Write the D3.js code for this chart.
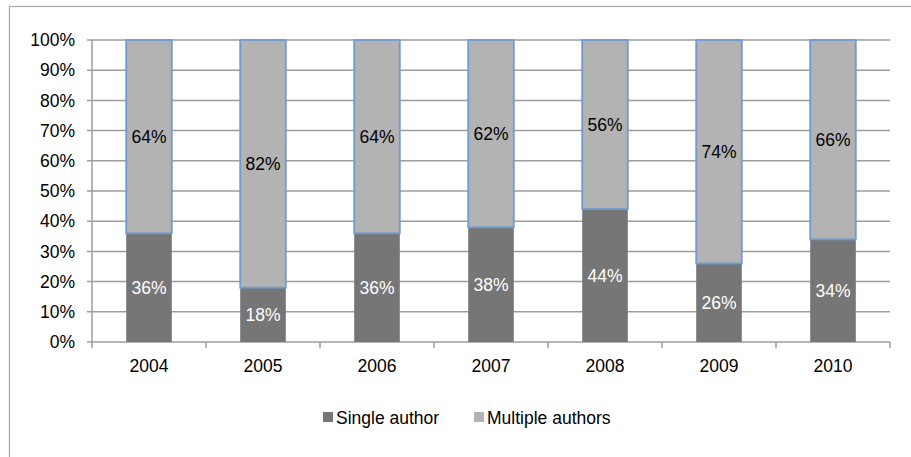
<!DOCTYPE html>
<html>
<head>
<meta charset="utf-8">
<script src="https://cdn.jsdelivr.net/npm/d3@7"></script>
<style>
  body { margin: 0; background: #fff; }
  text { font-family: "Liberation Sans", Arial, sans-serif; }
</style>
</head>
<body>
<div id="chart"></div>
<script>
// Data
var years = ["2004", "2005", "2006", "2007", "2008", "2009", "2010"];
var single = [36, 18, 36, 38, 44, 26, 34];
var multiple = [64, 82, 64, 62, 56, 74, 66];
var yTicks = [0, 10, 20, 30, 40, 50, 60, 70, 80, 90, 100];
var seriesNames = ["Single author", "Multiple authors"];

var svgWidth = 911;
var svgHeight = 457;
var margin = { top: 40, right: 21, bottom: 115, left: 92 };
var plotWidth = svgWidth - margin.left - margin.right;
var plotHeight = svgHeight - margin.top - margin.bottom;
var fontSize = 17.5;

var svg = d3.select("#chart")
    .append("svg")
    .attr("width", svgWidth)
    .attr("height", svgHeight);

// outer frame (runs off the right and bottom edges)
svg.append("rect")
    .attr("x", 9.5).attr("y", 6.5)
    .attr("width", 1000).attr("height", 1000)
    .attr("fill", "none")
    .attr("stroke", "#a6a6a6")
    .attr("stroke-width", 1.2);

var chartGroup = svg.append("g")
    .attr("transform", `translate(${margin.left}, ${margin.top})`);

var xScale = d3.scaleBand()
    .domain(years)
    .range([0, plotWidth])
    .paddingInner(0.6)
    .paddingOuter(0.3);

var yScale = d3.scaleLinear()
    .domain([0, 100])
    .range([plotHeight, 0]);

// gridlines
chartGroup.selectAll(".grid")
    .data(yTicks)
    .enter()
    .append("line")
    .attr("x1", -5)
    .attr("x2", plotWidth)
    .attr("y1", d => yScale(d))
    .attr("y2", d => yScale(d))
    .attr("stroke", "#9d9d9d")
    .attr("stroke-width", 1.5);

// y labels
chartGroup.selectAll(".ylab")
    .data(yTicks)
    .enter()
    .append("text")
    .attr("x", -17)
    .attr("y", d => yScale(d))
    .attr("dy", "0.35em")
    .attr("text-anchor", "end")
    .attr("font-size", fontSize)
    .attr("fill", "#000")
    .text(d => d + "%");

// y axis line
chartGroup.append("line")
    .attr("x1", 0).attr("x2", 0)
    .attr("y1", 0).attr("y2", plotHeight)
    .attr("stroke", "#9d9d9d")
    .attr("stroke-width", 1.5);

// x tick marks at category boundaries
var bounds = d3.range(years.length + 1);
chartGroup.selectAll(".xtick")
    .data(bounds)
    .enter()
    .append("line")
    .attr("x1", d => d * plotWidth / years.length)
    .attr("x2", d => d * plotWidth / years.length)
    .attr("y1", plotHeight)
    .attr("y2", plotHeight + 6)
    .attr("stroke", "#9d9d9d")
    .attr("stroke-width", 1.5);

// single author bars
chartGroup.selectAll(".single")
    .data(years)
    .enter()
    .append("rect")
    .attr("x", d => xScale(d))
    .attr("y", (d, i) => yScale(single[i]))
    .attr("width", xScale.bandwidth())
    .attr("height", (d, i) => plotHeight - yScale(single[i]))
    .attr("fill", "#767676");

// multiple author bars
chartGroup.selectAll(".multiple")
    .data(years)
    .enter()
    .append("rect")
    .attr("x", d => xScale(d))
    .attr("y", (d, i) => yScale(single[i] + multiple[i]))
    .attr("width", xScale.bandwidth())
    .attr("height", (d, i) => yScale(single[i]) - yScale(single[i] + multiple[i]))
    .attr("fill", "#b3b3b3")
    .attr("stroke", "#6d9cd3")
    .attr("stroke-width", 1.8);

// labels
chartGroup.selectAll(".slab")
    .data(years)
    .enter()
    .append("text")
    .attr("x", d => xScale(d) + xScale.bandwidth() / 2)
    .attr("y", (d, i) => yScale(single[i] / 2))
    .attr("dy", "0.35em")
    .attr("text-anchor", "middle")
    .attr("font-size", fontSize)
    .attr("fill", "#fff")
    .text((d, i) => single[i] + "%");

chartGroup.selectAll(".mlab")
    .data(years)
    .enter()
    .append("text")
    .attr("x", d => xScale(d) + xScale.bandwidth() / 2)
    .attr("y", (d, i) => yScale(single[i] + multiple[i] / 2))
    .attr("dy", "0.35em")
    .attr("text-anchor", "middle")
    .attr("font-size", fontSize)
    .attr("fill", "#000")
    .text((d, i) => multiple[i] + "%");

// x labels
chartGroup.selectAll(".xlab")
    .data(years)
    .enter()
    .append("text")
    .attr("x", d => xScale(d) + xScale.bandwidth() / 2)
    .attr("y", plotHeight + 30)
    .attr("text-anchor", "middle")
    .attr("font-size", fontSize)
    .attr("fill", "#000")
    .text(d => d);

// legend
var legendColors = ["#767676", "#b3b3b3"];
var legendX = [323, 474];
var legend = svg.selectAll(".legend")
    .data(seriesNames)
    .enter()
    .append("g")
    .attr("transform", (d, i) => `translate(${legendX[i]}, 424)`);

legend.append("rect")
    .attr("x", 0).attr("y", -12)
    .attr("width", 10).attr("height", 10)
    .attr("fill", (d, i) => legendColors[i]);

legend.append("text")
    .attr("x", 13)
    .attr("y", 0)
    .attr("font-size", fontSize)
    .attr("fill", "#000")
    .text(d => d);
</script>
</body>
</html>
